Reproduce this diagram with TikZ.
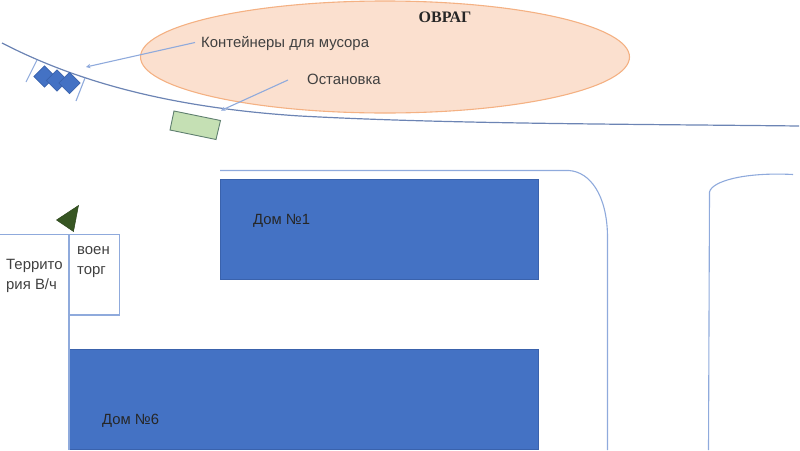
\documentclass[tikz,border=0pt]{standalone}
\usepackage{fontspec}
\setmainfont{Liberation Sans}
\newfontfamily\ovragfont{Liberation Serif}
\definecolor{roadblue}{HTML}{8FAADC}
\definecolor{curveblue}{HTML}{6C84B4}
\definecolor{housefill}{HTML}{4472C4}
\definecolor{houseline}{HTML}{3A62AC}
\definecolor{ovalfill}{HTML}{FBE0CF}
\definecolor{ovalline}{HTML}{F4B183}
\definecolor{stopfill}{HTML}{C5E0B4}
\definecolor{stopline}{HTML}{5F7F6F}
\definecolor{treefill}{HTML}{375623}
\definecolor{labelgray}{HTML}{404040}
\tikzset{
  road/.style={draw=roadblue,line width=1.1pt},
  house/.style={draw=houseline,fill=housefill,line width=0.7pt},
  lbl/.style={text=labelgray,font=\fontsize{14.9}{18}\selectfont,inner sep=0pt},
  pointer/.style={draw=roadblue,line width=1.1pt,-{Stealth[length=4.5pt,width=4.5pt]}},
  bin/.style={draw=houseline,fill=housefill,line width=0.6pt,shape=diamond,minimum width=21.5pt,minimum height=21.5pt,inner sep=0pt}
}
\usetikzlibrary{shapes.geometric,arrows.meta}
\begin{document}
\begin{tikzpicture}[x=1pt,y=-1pt]
\useasboundingbox (0,0) rectangle (800,450);
% ravine
\node[ellipse,draw=ovalline,fill=ovalfill,line width=1.1pt,minimum width=489pt,minimum height=112pt,inner sep=0pt] (ravine) at (385,57) {};
\node[inner sep=0pt,font=\ovragfont\bfseries\fontsize{16}{18}\selectfont,text=black!85] (ovragt) at (445,17) {ОВРАГ};
% main curved road
\draw[draw=curveblue,line width=1.2pt] (2,43) .. controls (70,78) and (160,107) .. (300,116) .. controls (450,124) and (620,124) .. (799,126);
% bracket ticks
\coordinate (t1a) at (37,60); \coordinate (t1b) at (26,82);
\coordinate (t2a) at (85,78); \coordinate (t2b) at (76,101);
\draw[road] (t1a) -- (t1b);
\draw[road] (t2a) -- (t2b);
% bins
\node[bin] (b1) at (44.5,76.5) {};
\node[bin] (b2) at (57,80.5) {};
\node[bin] (b3) at (69.5,83) {};
% stop
\draw[draw=stopline,fill=stopfill,line width=0.9pt] (174,111) -- (220.5,120.5) -- (216,139.5) -- (170,130) -- cycle;
% labels and pointers
\node[lbl,anchor=west] (cont) at (201,44) {Контейнеры для мусора};
\node[lbl,anchor=west] (stoplabel) at (307,79.5) {Остановка};
\coordinate (cfrom) at (195,42.5);
\coordinate (sfrom) at (288,80);
\draw[pointer] (cfrom) -- (86,67);
\draw[pointer] (sfrom) -- (221,110.5);
% houses
\node[house,minimum width=318.3pt,minimum height=100.3pt,inner sep=0pt,anchor=north west] (h1) at (220,179) {};
\node[house,minimum width=469.3pt,minimum height=100.3pt,inner sep=0pt,anchor=north west] (h6) at (69,349) {};
\node[inner sep=0pt,anchor=west,font=\fontsize{14.8}{17}\selectfont,text=black!85] (t1) at (253,221) {Дом №1};
\node[inner sep=0pt,anchor=west,font=\fontsize{14.8}{17}\selectfont,text=black!85] (t6) at (102,421) {Дом №6};
% roads
\draw[road] (220,170.5) -- (569,170.5) .. controls (590,172) and (607,195) .. (607.5,236) -- (607.5,450);
\draw[road] (708.5,450) -- (709.5,192) .. controls (712,181) and (745,172) .. (793,174.5);
% military / shop
\draw[road] (0,234.5) -- (119.5,234.5) -- (119.5,315) -- (69,315);
\draw[road] (69,234.5) -- (69,450);
% tree
\draw[draw=treefill!80!black,fill=treefill,line width=0.5pt] (78.5,205.5) -- (56.5,220) -- (73.5,231.5) -- cycle;
% texts
\node[lbl,anchor=north west,align=left,font=\fontsize{14.9}{20}\selectfont] (terr) at (6,259) {Террито\\рия В/ч};
\node[lbl,anchor=north west,align=left,font=\fontsize{14.9}{20}\selectfont] (voen) at (77,246) {воен\\торг};
\end{tikzpicture}
\end{document}
